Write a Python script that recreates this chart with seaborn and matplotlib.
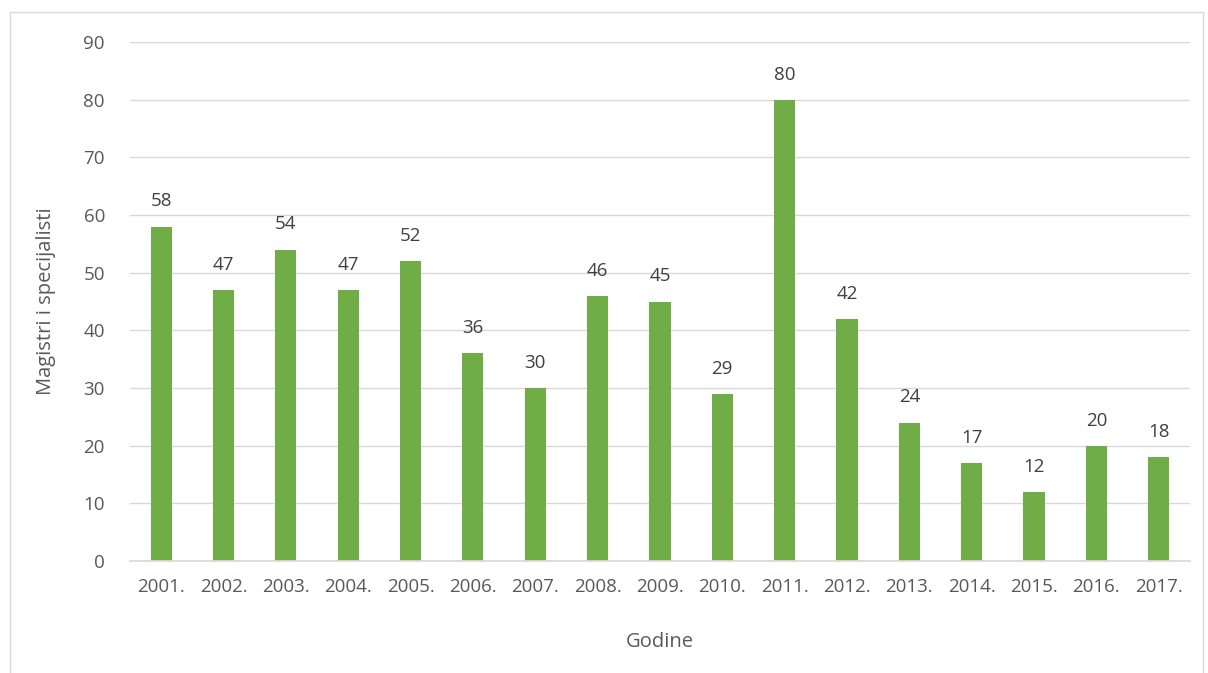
import matplotlib.pyplot as plt
import pandas as pd
import seaborn as sns
from matplotlib.patches import Rectangle

years = ["2001.", "2002.", "2003.", "2004.", "2005.", "2006.", "2007.", "2008.", "2009.",
         "2010.", "2011.", "2012.", "2013.", "2014.", "2015.", "2016.", "2017."]
counts = [58, 47, 54, 47, 52, 36, 30, 46, 45, 29, 80, 42, 24, 17, 12, 20, 18]

df = pd.DataFrame({"Godine": years, "Broj": counts})

sns.set_theme(style="white")
plt.rcParams["font.family"] = ["Open Sans", "DejaVu Sans"]

fig = plt.figure(figsize=(12.08, 6.73), dpi=100)
ax = fig.add_axes([0.1076, 0.1664, 0.8774, 0.7712])

sns.barplot(df, x="Godine", y="Broj", color="#70AD47", saturation=1, width=0.34,
            linewidth=0, ax=ax)

for i, v in enumerate(counts):
    ax.text(i, v + 2.8, str(v), ha="center", va="bottom", fontsize=13.5, color="#404040")

ax.set_ylim(0, 90)
ax.set_yticks(range(0, 91, 10))
ax.set_xlim(-0.5, len(years) - 0.5)
ax.yaxis.grid(True, color="#D9D9D9", linewidth=1)
ax.set_axisbelow(True)
for side in ["top", "right", "left"]:
    ax.spines[side].set_visible(False)
ax.spines["bottom"].set_color("#D9D9D9")
ax.tick_params(axis="both", length=0, labelsize=13.5, labelcolor="#595959")
ax.tick_params(axis="x", pad=12)
ax.tick_params(axis="y", pad=18)
ax.set_xlabel("Godine", fontsize=14.5, color="#595959", labelpad=26)
ax.set_ylabel("Magistri i specijalisti", fontsize=14.5, color="#595959", labelpad=20)

fig.patches.append(Rectangle((0.008, -0.01), 0.988, 0.992, transform=fig.transFigure,
                             fill=False, edgecolor="#D9D9D9", linewidth=1))

fig.savefig("out.png", dpi=100)
